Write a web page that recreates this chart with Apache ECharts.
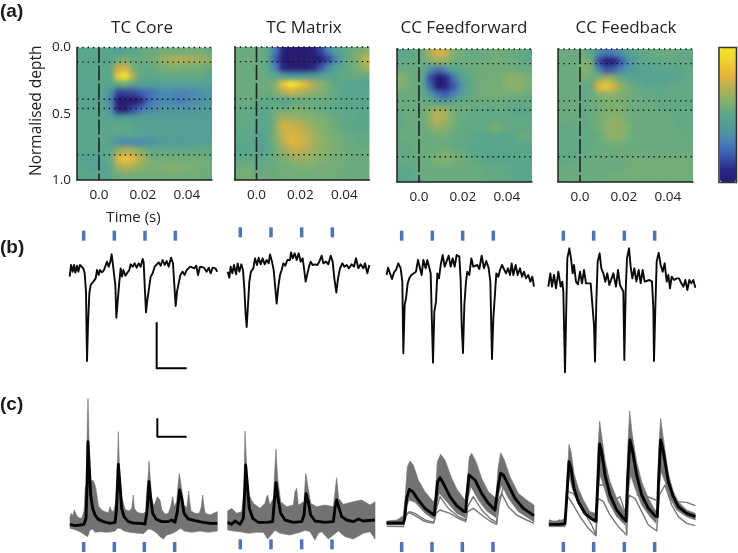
<!DOCTYPE html>
<html><head><meta charset="utf-8">
<style>html,body{margin:0;padding:0;background:#fff}#c{width:738px;height:553px}</style>
<script src="https://cdn.jsdelivr.net/npm/echarts@6/dist/echarts.min.js"></script></head>
<body><div id="c"></div>
<script>
const panelNames=['TC Core','TC Matrix','CC Feedforward','CC Feedback'];
const timeTicks=[0,0.02,0.04];
const depthTicks=[0,0.5,1];
const layerDepths=[0,0.11,0.39,0.46,0.81];
const heatCore=[
[5,5,5,5,4.6,4.4,4.6,5,5.2,5.4,5.4,5.6,5.6,5.6,5.6,5.6,5.6,5.4],
[5,5,5,5,4.8,5.4,5.8,5.4,5.4,5.6,5.8,6.4,6.8,7,7,6.8,6.6,6.2],
[5,5,5,5,5,7.4,7.6,5.8,5.2,5.2,5.4,5.6,5.8,5.8,5.6,5.6,5.6,5.4],
[5,5,5,5,5,8.8,10,7,5.2,5,5,5.2,5.2,5.2,5.2,5.2,5.2,5],
[5,5,5,4.8,4.6,5.2,5.4,4.6,4.4,4.4,4.4,4.4,4.4,4.4,4.4,4.4,4.4,4.4],
[4.8,4.8,4.8,4.6,3.8,1.4,1.4,1.6,2,2.4,2.8,3.2,3.4,3,3.2,3.4,3.6,3.8],
[4.8,4.8,4.8,4.6,3.2,0,0,0,0.8,2.2,3,3.2,3.2,2.8,3.2,3.4,3.6,3.8],
[4.8,4.8,4.8,4.6,3.8,0.6,0.4,1.6,2.6,3.2,3.6,3.8,3.8,3.8,3.8,3.8,4,4],
[5,5,5,4.8,4.6,4.2,4.4,4.4,4.4,4.4,4.4,4.4,4.4,4.4,4.4,4.4,4.4,4.4],
[5,5,5,5,5,5.2,5,4.8,4.6,4.6,4.6,4.6,4.6,4.6,4.4,4.4,4.4,4.4],
[5,5,5,5,4.8,5,4.8,4.8,4.6,4.4,4.4,4.4,4.4,4.4,4.4,4.4,4.4,4.4],
[5,5,5,5,4.6,3.6,3.4,3.4,3.4,3.6,3.8,4.2,4.2,4.2,4.2,4.4,4.4,4.6],
[5,5,5,5,5,6.4,7,6.6,6,5.4,5.2,5.2,5.2,5.2,5.2,5.2,5.2,5.2],
[4.8,4.6,4.6,4.8,5.2,7.8,8.6,8,7,6,5.6,5.6,5.6,5.6,5.6,5.6,5.6,5.4],
[4.8,4.6,4.4,4.6,5,6.6,7,6.6,6.2,5.8,5.8,5.8,6,6,5.8,5.8,5.6,5.6],
[5,5,5,5,5,5.4,5.6,5.6,5.6,5.6,5.6,5.6,5.6,5.6,5.6,5.6,5.6,5.4]];
const heatMatrix=[
[5.4,5.4,5.4,5.4,5,2.8,0.6,0,0,0,0.4,1.5,3.2,4.2,5,5.4,5.6,6],
[5.4,5.4,5.4,5.4,4.8,2,0,0,0,0,0,0.2,1.4,3.2,4.6,5.4,6,7.4],
[5.4,5.4,5.4,5.4,5,3,0.6,0,0,0,0.6,1.8,3.4,4.4,5,5.4,5.8,6.6],
[5.4,5.4,5.4,5.4,5.2,5,4.2,3.8,3.8,4,4.2,4.6,4.8,5,5.2,5.2,5.4,5.4],
[5.4,5.4,5.4,5.4,5.4,6.2,8.4,10,9,8,7,6.2,5.6,5,5,4.8,4.6,4.6],
[5.4,5.4,5.4,5.4,5.4,5.8,6.8,7.4,7,6.6,6.2,6,5.6,5.2,5,5,4.8,4.8],
[5.4,5.4,5.4,5.2,5,5,4.6,4.8,5.2,5.4,5.4,5.4,5.2,5.2,5,5,5,5],
[5.2,5.2,5.2,5,5,5.4,5.4,5.6,5.8,5.6,5.4,5.2,5.2,5,5,5,5,5],
[5.2,5.2,5.2,5,5,5.8,6.8,6.6,6.4,6.2,6,5.8,5.6,5.4,5.2,5.2,5,5],
[5.2,5.2,5,5,5,6,7.6,7.4,7.2,6.8,6.4,6,5.8,5.4,5.2,5,5,5],
[5.2,5,5,4.6,5,6,7.4,7.8,7.6,7.2,6.6,6.2,5.8,5.6,5.4,5.2,5.2,5.2],
[5,5,5,4.4,5,5.8,7,7.8,7.8,7.4,6.8,6.4,6,5.8,5.6,5.4,5.2,5.2],
[5,5,5,4.6,5,5.6,6.4,7,7.2,7,6.6,6.2,6,5.8,5.6,5.4,5.4,5.4],
[5.2,5.2,5.2,5,5.2,5.4,5.8,6.2,6.4,6.4,6.2,6,5.8,5.6,5.6,5.4,5.4,5.4],
[5.4,5.6,5.4,5.2,5.4,5.4,5.6,5.6,5.8,5.8,5.8,5.6,5.6,5.6,5.6,5.4,5.4,5.4],
[5.6,5.8,5.6,5.4,5.4,5.4,5.6,5.6,5.6,5.6,5.6,5.6,5.6,5.6,5.4,5.4,5.4,5.4]];
const heatFeedforward=[
[5,5,5.2,5.6,6.8,7.6,7.4,6,5.6,5.4,5.2,5.4,5.4,5.6,5.4,5.4,5.2,5],
[5.2,5.2,5.2,5.4,6,6.4,6.2,5.6,5.4,5.4,5.4,5.4,5.4,5.6,5.4,5.4,5.2,5.2],
[5.4,5.4,5.4,5.2,3.6,2.6,3.4,4.6,5,5.4,5.4,5.6,5.6,5.6,5.6,5.6,5.4,5.4],
[6.2,5.6,5.4,5,1.6,0,0.8,2.6,4.2,5,5.4,5.6,5.6,5.6,6,6.2,6.2,5.8],
[6,5.6,5.4,5,2.2,0,0.4,1.8,3.4,4.8,5.4,5.6,5.6,5.6,6,6.2,6.2,5.8],
[5.4,5.4,5.4,5.2,4.2,2.6,2,3,4.2,5,5.4,5.6,5.6,5.6,5.6,5.6,5.6,5.4],
[5.4,5.4,5.4,5.4,5.2,5,5,5.2,5.4,5.4,5.4,5.4,5.4,5.4,5.4,5.2,5.2,5.2],
[5.2,5.4,5.4,5.4,6.2,7,6.6,5.6,5.4,5.4,5.2,5.2,5,5.2,5.2,5,4.8,5],
[5.2,5.4,5.4,5.4,6.4,7.2,6.6,5.8,5.4,5.2,5.2,5.2,5.2,5.2,5.2,5.2,5.2,5.2],
[5.2,5.4,5.4,5.4,6,6.4,6,5.6,5.2,5.2,5.2,5.2,5.6,5.8,5.4,5.2,5.2,5.2],
[5.4,5.4,5.4,5.4,5.4,5.6,5.6,5.4,5.2,5.2,5,5,5,5,5,5,5.4,5.4],
[5.2,5.2,5.4,5.4,5.4,5.4,5.4,5.2,5.2,5,5,5,4.8,4.8,5,5,5,5],
[5.2,5.2,5.4,5.4,5.4,5.6,6,5.6,5.4,5.2,5,5,4.8,4.8,4.8,5,5,5],
[5.4,5.2,5.2,5.4,5.6,5.8,6,5.8,5.6,5.4,5.2,5,5,5,5,5,5,5],
[5,5,5.2,5.4,5.4,5.4,5.4,5.4,5.4,5.4,5.4,5.2,5.2,5.2,5.2,5,5,5],
[5,5,5.2,5.4,5.4,5.4,5.4,5.4,5.4,5.4,5.4,5.4,5.2,5.2,5.2,5,5,5]];
const heatFeedback=[
[5.4,5.4,5.4,5.4,4.8,3.4,2.8,3,3.8,4.6,5,5.2,5.2,5.4,5.4,5.4,5.2,5.2],
[5.4,5.4,5.4,6,5.4,1.6,0,0.4,2,3.6,4.4,4.8,5,5.2,5.2,5.2,5.2,5.2],
[5.4,5.4,5.4,6.2,5.6,3.2,1.8,2.2,3.2,4,4.4,4.6,4.8,4.8,4.8,5,5,5.2],
[5.4,5.4,5.4,5.8,5.4,6,6.6,6,5.2,4.8,4.6,4.6,4.6,4.6,4.6,4.8,5,5.2],
[5.4,5.4,5.4,5.2,5.4,8,8.8,7.6,6.2,5.6,5.2,5,5,5,5,5.2,5.2,5.2],
[5.4,5.4,5.4,5.2,5.4,6,6.4,6.2,5.8,5.6,5.4,5.2,5.2,5.2,5.2,5.2,5.2,5.2],
[5.4,5.4,5.4,5.2,5.4,5.6,5.8,5.8,5.8,5.6,5.4,5.4,5.4,5.2,5.2,5.2,5.2,5.2],
[5.4,5.4,5.4,5.2,5.4,5.6,5.8,6,5.8,5.6,5.4,5.4,5.4,5.4,5.2,5.2,5.2,5.2],
[5.4,5.4,5.4,5.2,5.4,5.6,6,6.2,6,5.6,5.4,5.4,5.4,5.4,5.4,5.2,5.2,5.2],
[5.2,5.2,5.4,5.2,5.4,5.6,6.2,6.4,6.2,5.8,5.4,5.4,5.4,5.4,5.4,5.4,5.2,5.2],
[5.2,5.2,5.2,5.2,5.2,5.4,6,6.2,6.2,5.6,5.4,5.4,5.4,5.4,5.4,5.4,5.4,5.2],
[5.2,5.2,5.2,5.2,5.2,5.4,5.4,5.6,5.6,5.4,5.4,5.4,5.4,5.4,5.4,5.4,5.4,5.4],
[5.2,5.2,5.2,5.2,5.4,5.4,5.4,5.4,5.4,5.4,5.6,5.4,5.4,5.4,5.4,5.4,5.4,5.4],
[5.2,5.2,5.4,5.2,5.4,5.4,5.4,5.4,5.4,5.6,5.6,5.6,5.6,5.6,5.6,5.6,5.6,5.6],
[5.4,5.4,5.4,5.4,5.4,5.4,5.4,5.4,5.4,5.6,5.6,5.6,5.6,5.6,5.6,5.6,5.6,5.6],
[5.4,5.4,5.4,5.4,5.4,5.4,5.6,5.6,5.6,5.6,5.6,5.6,5.6,5.6,5.6,5.6,5.6,5.6]];
const heatMatrices=[heatCore,heatMatrix,heatFeedforward,heatFeedback];

const traceB1=[209,155,213,120,218,140,222,120,226,143,231,122,235,140,240,120,245,118,250,130,254,145,258,200,261,408,264,300,268,205,272,180,280,170,287,160,291,135,296,150,300,135,306,142,312,135,318,130,321,110,326,125,331,110,335,88,338,112,343,110,346,180,349,278,353,230,358,170,362,130,366,155,370,135,376,152,382,150,388,135,392,118,398,125,404,115,410,128,416,115,422,125,428,102,431,112,434,180,438,262,442,225,447,190,452,155,458,145,464,125,470,128,476,112,482,122,488,105,494,120,500,108,506,125,513,98,519,115,523,180,527,243,531,200,536,175,541,150,548,140,554,150,560,135,566,140,571,125,577,125,583,130,589,122,594,150,600,125,606,130,612,128,620,140,626,128,632,145,638,128,646,130,652,140];
const traceB2=[683,140,688,158,692,125,697,145,702,120,708,148,713,115,718,140,724,118,729,135,733,190,737,270,740,306,744,240,748,170,753,140,760,130,765,100,771,120,776,98,782,118,788,100,794,118,800,105,806,115,810,88,816,110,821,135,826,190,830,236,835,185,840,150,845,135,850,115,856,122,862,105,870,105,873,82,878,100,884,85,890,105,896,85,902,110,908,100,912,130,917,170,922,165,927,125,932,110,938,120,945,118,952,120,958,110,965,92,970,115,978,110,985,118,992,92,998,110,1003,160,1009,203,1014,160,1020,130,1027,115,1033,125,1040,120,1047,130,1055,118,1062,125,1068,100,1075,130,1082,118,1090,130,1095,115,1102,145,1108,120];
const traceB3=[50,150,54,128,60,130,66,162,72,142,78,135,85,115,92,130,97,170,100,385,104,240,108,220,113,175,118,160,124,150,130,145,138,140,144,105,150,130,155,150,160,105,167,130,172,105,178,100,182,145,186,300,189,413,193,260,198,230,202,145,207,160,212,120,218,90,224,125,230,125,236,92,242,125,248,100,254,125,260,90,268,95,272,165,275,300,279,384,283,240,288,170,292,140,298,150,304,100,310,125,316,125,322,120,328,132,335,92,342,130,349,108,356,130,361,170,366,402,370,280,374,220,379,145,385,155,390,135,396,120,402,125,408,145,414,130,420,150,425,115,430,150,437,120,443,150,450,130,456,155,462,140,468,160,475,150,481,170,487,155,492,185];
const traceB4=[535,185,541,145,546,185,552,150,558,190,565,140,572,185,577,170,580,200,585,442,589,240,592,100,598,70,603,100,608,145,612,120,618,170,624,178,630,140,636,175,642,135,648,175,654,170,662,175,668,180,672,300,675,410,679,230,683,110,689,85,694,130,700,145,706,170,712,145,718,180,724,175,730,145,738,185,744,135,750,180,756,175,760,200,763,405,767,200,771,100,777,70,782,125,787,160,793,130,799,170,806,135,812,175,818,135,824,170,830,170,838,165,846,170,850,250,852,408,856,250,860,110,866,83,872,120,878,140,884,115,890,170,895,150,900,190,905,155,912,165,920,160,927,160,934,175,940,185,946,165,952,195,958,165,964,175,970,165,976,188];

const meanC1=[210,418,225,422,240,420,252,418,258,400,261,300,264,170,268,250,272,330,278,370,285,390,295,403,310,410,330,415,345,412,349,380,355,238,360,300,365,370,372,395,385,410,400,414,420,415,435,417,441,380,447,290,452,340,458,385,468,402,485,410,505,410,515,405,525,412,532,380,539,315,545,340,552,385,565,402,585,407,610,412,630,415,652,415];
const upperC1=[210,395,214,385,218,392,223,375,228,388,235,398,245,400,252,378,256,305,259,300,262,110,264,40,266,110,268,230,271,290,276,285,282,290,288,312,295,362,305,375,315,380,325,383,330,365,336,380,342,375,347,350,351,300,353,220,355,140,357,210,360,290,365,335,375,372,385,378,395,372,400,330,403,370,410,380,420,385,430,385,437,380,441,310,444,280,447,228,450,270,454,330,460,362,466,352,472,335,480,345,486,375,495,388,505,385,512,365,518,335,523,365,530,350,534,300,538,265,541,285,546,320,552,360,560,368,564,340,566,318,569,350,573,378,585,385,598,385,604,365,608,330,612,365,616,385,630,390,640,385,652,380];
const lowerC1=[210,430,225,434,240,440,252,448,258,452,263,455,270,435,278,432,285,442,300,440,320,442,335,440,345,438,352,430,360,430,372,438,390,442,410,444,430,446,445,432,455,434,470,444,480,455,490,462,500,450,515,446,530,438,542,430,552,438,575,442,600,438,625,442,652,438];
const meanC2=[683,412,695,418,705,408,720,418,730,400,735,300,737,240,742,300,748,370,758,400,775,412,800,412,818,410,823,350,828,293,834,340,842,385,855,405,880,412,905,410,912,390,918,326,925,350,932,390,945,408,975,412,1000,410,1005,370,1010,345,1016,365,1025,395,1040,405,1060,410,1075,402,1090,408,1125,405];
const upperC2=[683,378,695,370,710,385,725,380,731,330,733,250,735,138,737,180,740,250,747,330,760,355,780,370,795,355,800,335,803,330,806,345,810,360,820,340,824,260,826,225,828,192,830,230,833,280,842,350,860,365,880,360,885,320,890,310,893,340,895,360,912,350,915,300,917,265,920,280,922,295,932,355,950,365,975,360,1000,365,1005,320,1010,278,1013,310,1016,340,1030,358,1060,350,1085,345,1110,360,1125,350];
const lowerC2=[683,435,700,438,720,440,745,445,770,442,790,442,803,462,815,448,825,436,840,445,870,450,900,442,915,436,930,440,945,465,955,445,965,440,985,462,1000,450,1015,438,1035,455,1060,462,1090,445,1110,440,1125,462];
const meanC3=[50,414,80,414,100,414,104,400,110,340,118,313,128,320,145,345,165,370,185,385,193,390,197,350,203,290,210,278,220,295,240,335,260,362,280,378,287,380,291,330,297,270,303,265,315,285,335,325,355,355,375,375,380,370,385,300,392,265,400,270,415,300,435,340,460,370,492,392];
const upperC3=[50,408,80,405,100,392,105,340,112,245,120,228,130,240,145,285,165,320,190,350,195,340,202,230,212,208,225,225,245,280,262,315,285,345,290,310,298,215,305,205,318,230,335,280,355,320,378,340,384,250,392,203,403,225,420,275,445,325,470,345,492,360];
const lowerC3=[50,420,80,420,100,420,106,370,118,345,135,352,165,385,190,402,197,370,208,325,230,350,260,385,285,398,292,350,303,305,325,345,350,378,378,398,385,330,395,300,415,340,445,380,492,410];
const lineC3a=[100,420,106,390,118,380,135,385,165,405,192,412,198,375,210,335,235,370,265,395,287,405,293,365,310,335,335,375,360,400,380,412,385,345,395,325,415,365,440,390,470,405,492,415];
const lineC3b=[192,412,198,385,210,375,240,385,265,400,287,410,293,380,310,370,335,390,360,408,380,418,387,360,400,305,420,310,440,345,470,385,492,410];
const lineC3c=[50,424,100,425,107,395,115,382,135,392,165,410,192,415];
const meanC4=[537,418,570,418,585,416,590,340,597,230,603,250,612,310,625,350,645,385,665,402,678,408,683,300,689,177,695,200,705,270,720,330,740,375,760,400,768,408,773,280,780,165,787,195,800,270,815,330,835,370,855,392,862,395,866,280,872,165,880,200,895,290,910,335,925,365,950,385,976,395];
const upperC4=[537,408,570,408,585,400,590,300,597,178,604,205,612,265,625,310,640,345,660,380,678,385,683,200,689,108,696,160,705,225,720,290,740,340,760,375,768,385,773,190,779,78,787,150,800,230,815,290,835,340,855,375,862,378,866,190,872,100,880,160,895,265,910,320,925,350,950,375,976,385];
const lowerC4=[537,425,570,425,585,425,590,370,597,270,605,305,620,345,640,385,660,402,678,415,684,340,690,270,700,300,715,350,740,395,765,420,773,340,782,270,795,310,815,360,840,395,858,415,866,330,873,260,885,290,900,340,920,375,950,395,976,405];
const lineC4a=[537,405,555,412,570,405,585,420,592,320,610,325,630,360,650,395,665,420,678,450,684,300,700,300,720,325,735,345,750,335,765,380,770,445];
const lineC4b=[590,330,610,360,630,395,655,430,678,452,684,340,700,350,720,390,745,425,770,450,776,330,795,340,815,380,835,420,860,438,868,330,885,300,905,360,925,395,950,415,976,422];
const lineC4c=[800,330,820,330,858,345];
const lineC4d=[925,350,950,352,976,362];

const stimB=[[251,343,435,526],[721,813,905,997],[95,187,278,370],[580,671,763,854]];
const stimC=[[251,343,433,524],[721,813,905,996],[95,186,277,369],[580,671,763,854]];
const stimLevelB=[32,22,32,32];
const stimLevelC=[486,478,486,486];
const rangesB=[[209,652],[683,1108],[50,492],[535,976]];
const rangesC=[[209,652],[683,1125],[50,492],[535,976]];
const tracesB=[traceB1,traceB2,traceB3,traceB4];
const meansC=[meanC1,meanC2,meanC3,meanC4];
const uppersC=[upperC1,upperC2,upperC3,upperC4];
const lowersC=[lowerC1,lowerC2,lowerC3,lowerC4];
const extrasC=[[],[],[lineC3a,lineC3b,lineC3c],[lineC4a,lineC4b,lineC4c,lineC4d]];
const scaleB=[470,292,470,430,560,430];
const scaleC=[472,100,472,155,560,155];
const parula=['#261a70','#2a2a88','#3a5cb0','#4a80b8','#4f9a9c','#5aa68a','#82b06c','#b5ae55','#e8b53a','#f0d030','#f5e826'];

const pairs=a=>{const o=[];for(let i=0;i<a.length;i+=2)o.push([a[i],a[i+1]]);return o;};
const FONT='"Open Sans"';
const Z=1;
const rects=[[77,47.5,135,132.5],[234.5,47,135,133],[397,49,135,133],[558,49,135,133]];
const titleCenters=[142,304,464,626];
const offs=[0,0,370,370];
const grid=[],xAxis=[],yAxis=[],series=[],titles=[];
const nC=18,nR=16;
function hidden(extra){return Object.assign({show:false,zlevel:Z},extra);}
// heatmaps (layer 0, softened) with a one-cell bleed margin
rects.forEach((r,p)=>{
  const cw=r[2]/nC,ch=r[3]/nR,g=grid.length;
  grid.push({left:r[0]-cw,top:r[1]-ch,width:r[2]+2*cw,height:r[3]+2*ch,show:false});
  xAxis.push({type:'category',gridIndex:g,show:false,boundaryGap:true,data:Array.from({length:nC+2},(_,i)=>i)});
  yAxis.push({type:'category',gridIndex:g,show:false,inverse:true,boundaryGap:true,data:Array.from({length:nR+2},(_,i)=>i)});
  const data=[];const m=heatMatrices[p];
  for(let j=-1;j<=nR;j++)for(let i=-1;i<=nC;i++){
    const jj=Math.min(nR-1,Math.max(0,j)),ii=Math.min(nC-1,Math.max(0,i));
    data.push([i+1,j+1,m[jj][ii]]);
  }
  series.push({type:'heatmap',xAxisIndex:g,yAxisIndex:g,data,zlevel:0,silent:true,progressive:0,itemStyle:{borderWidth:0}});
});
const heatIdx=[0,1,2,3];
const xMin=-0.01,xMax=0.0514;
rects.forEach((r,p)=>{
  const g=grid.length;
  grid.push({left:r[0],top:r[1],width:r[2],height:r[3],show:false});
  xAxis.push({type:'value',gridIndex:g,min:xMin,max:xMax,zlevel:Z,
    name:p===0?'Time (s)':'',nameLocation:'middle',nameGap:30,nameTextStyle:{fontFamily:FONT,fontSize:15,color:'#222',padding:[0,22,0,0]},
    axisLine:{show:true,onZero:false,lineStyle:{color:'#222',width:1.5}},axisTick:{show:false},splitLine:{show:false},
    axisLabel:{customValues:timeTicks,margin:8,fontFamily:FONT,fontSize:13.5,color:'#222',formatter:v=>v===0?'0.0':String(v)}});
  yAxis.push({type:'value',gridIndex:g,min:0,max:1,inverse:true,zlevel:Z,
    name:p===0?'Normalised depth':'',nameLocation:'middle',nameRotate:90,nameGap:32,nameTextStyle:{fontFamily:FONT,fontSize:15.5,color:'#222',padding:[0,0,0,6]},
    axisLine:{show:true,onZero:false,lineStyle:{color:'#222',width:1.5}},axisTick:{show:false},splitLine:{show:false},
    axisLabel:{show:p===0,customValues:depthTicks,margin:6,fontFamily:FONT,fontSize:13.5,color:'#222',formatter:v=>v.toFixed(1)}});
  layerDepths.forEach(d=>series.push({type:'line',xAxisIndex:g,yAxisIndex:g,zlevel:Z,silent:true,showSymbol:false,clip:false,
    data:[[xMin,d],[xMax,d]],lineStyle:{color:'#111',width:1.4,type:[1.4,3.9]}}));
  series.push({type:'line',xAxisIndex:g,yAxisIndex:g,zlevel:Z,silent:true,showSymbol:false,
    data:[[0,0],[0,1]],lineStyle:{color:'#222',width:1.6,type:[15,3]}});
  titles.push({text:panelNames[p],left:titleCenters[p],top:20,padding:0,textAlign:'center',zlevel:Z,textStyle:{fontFamily:FONT,fontSize:17,fontWeight:'normal',color:'#222'}});
});
function stimSeries(g,ts,lv){return {type:'scatter',xAxisIndex:g,yAxisIndex:g,zlevel:Z,silent:true,symbol:'rect',symbolSize:[3.5,10],
  data:ts.map(t=>[t,lv]),itemStyle:{color:'#2450a8'}};}
function lineS(g,a,color,w){return {type:'line',xAxisIndex:g,yAxisIndex:g,zlevel:Z,silent:true,showSymbol:false,clip:false,data:pairs(a),
  lineStyle:{color,width:w,join:'round'}};}
// evoked currents (b)
rangesB.forEach((rg,p)=>{
  const g=grid.length;
  grid.push({left:rg[0]/3+offs[p],top:225,width:(rg[1]-rg[0])/3,height:160,show:false});
  xAxis.push(hidden({type:'value',gridIndex:g,min:rg[0],max:rg[1]}));
  yAxis.push(hidden({type:'value',gridIndex:g,min:0,max:480,inverse:true}));
  series.push(lineS(g,tracesB[p],'#0a0a0a',1.9));
  series.push(stimSeries(g,stimB[p],stimLevelB[p]));
  if(p===0)series.push(lineS(g,scaleB,'#000',2));
});
// evoked responses (c)
rangesC.forEach((rg,p)=>{
  const g=grid.length;
  grid.push({left:rg[0]/3+offs[p],top:385,width:(rg[1]-rg[0])/3,height:168,show:false});
  xAxis.push(hidden({type:'value',gridIndex:g,min:rg[0],max:rg[1]}));
  yAxis.push(hidden({type:'value',gridIndex:g,min:0,max:504,inverse:true}));
  const poly=pairs(uppersC[p]).concat(pairs(lowersC[p]).reverse());
  series.push({type:'custom',xAxisIndex:g,yAxisIndex:g,zlevel:Z,silent:true,clip:false,data:poly,encode:{x:0,y:1},
    renderItem:(params,api)=>{
      if(params.dataIndex!==0)return null;
      return {type:'polygon',shape:{points:poly.map(q=>api.coord(q))},style:{fill:'#737373',stroke:'#737373',lineWidth:0.6}};
    }});
  extrasC[p].forEach(a=>series.push(lineS(g,a,'#777',1.4)));
  series.push(lineS(g,meansC[p],'#050505',2.9));
  series.push(stimSeries(g,stimC[p],stimLevelC[p]));
  if(p===0)series.push(lineS(g,scaleC,'#000',2));
});
[['(a)',12],['(b)',248],['(c)',405]].forEach(([t,y])=>titles.push({text:t,left:0,top:y-10,padding:0,zlevel:Z,
  textStyle:{fontFamily:'"Liberation Sans"',fontSize:19,fontWeight:'bold',color:'#1a1a1a'}}));

const chart=echarts.init(document.getElementById('c'),null,{renderer:'canvas'});
chart.setOption({animation:false,title:titles,grid,xAxis,yAxis,series,
  visualMap:{type:'continuous',seriesIndex:heatIdx,min:0,max:10,left:720,top:48,itemWidth:16,itemHeight:134,text:null,calculable:false,zlevel:Z,
    inRange:{color:parula},padding:0,hoverLink:false},
  graphic:{elements:[{type:'rect',zlevel:Z,z:100,shape:{x:719,y:47.5,width:17.5,height:135},silent:true,style:{fill:'none',stroke:'#333',lineWidth:1.6}}]}
});
const base=document.querySelector('#c canvas[data-zr-dom-id="zr_0"]');
if(base){
  const clip=rects.map(r=>`M${r[0]} ${r[1]}h${r[2]}v${r[3]}h${-r[2]}z`).join('');
  base.style.filter='blur(2.6px)';
  base.style.clipPath=`path('${clip}')`;
}
</script></body></html>
